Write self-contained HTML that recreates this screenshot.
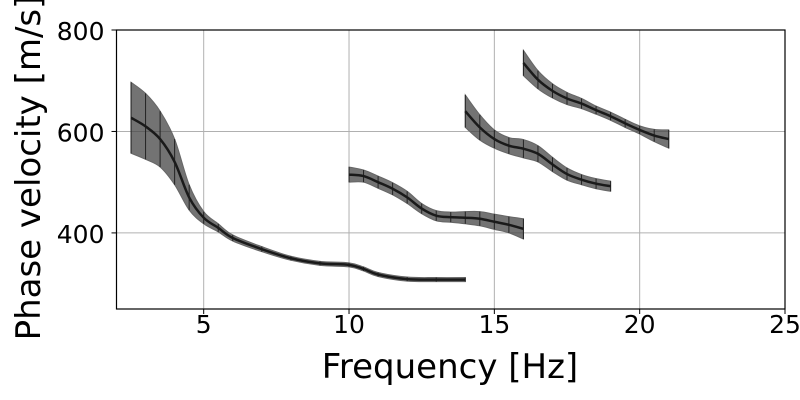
<!DOCTYPE html>
<html><head><meta charset="utf-8"><style>
body{margin:0;background:#fff;}
svg{display:block;font-family:"DejaVu Sans","Liberation Sans",sans-serif;}
</style></head><body>
<svg id="chart" width="800" height="400" viewBox="0 0 800 400"></svg>
<script>
const xTicks=[5,10,15,20,25];
const yTicks=[400,600,800];
const mode0X=[2.5,3,3.5,4,4.5,5,5.5,6,7,8,9,10,10.5,11,12,13,14];
const mode0Y=[627,610,585,540,470,430,410,390,368,350,340,337,329,318,309,308,308];
const mode0E=[70,65,55,45,25,12,8,6,5,4,4,4,4,4,4,4,4];
const mode1X=[10,10.5,11,11.5,12,12.5,13,13.5,14,14.5,15,15.5,16];
const mode1Y=[515,512,500,487,470,448,434,431,430,428,422,416,408];
const mode1E=[15,12,12,12,12,10,10,10,12,14,15,16,20];
const mode2X=[14,14.5,15,15.5,16,16.5,17,17.5,18,18.5,19];
const mode2Y=[640,608,585,572,566,556,535,516,505,497,492];
const mode2E=[32,25,18,16,18,16,14,12,10,10,10];
const mode3X=[16,16.5,17,17.5,18,18.5,19,19.5,20,20.5,21];
const mode3Y=[735,702,680,665,655,642,630,616,603,592,585];
const mode3E=[25,18,14,12,10,8,8,8,8,12,18];
const modes=[[mode0X,mode0Y,mode0E],[mode1X,mode1Y,mode1E],[mode2X,mode2Y,mode2E],[mode3X,mode3Y,mode3E]];

const L=116.5,R=785,T=30,B=309,x0=2,x1=25,y0=250,y1=800;
const sx=v=>L+(v-x0)/(x1-x0)*(R-L);
const sy=v=>B-(v-y0)/(y1-y0)*(B-T);
const NS='http://www.w3.org/2000/svg';
const svg=document.getElementById('chart');
function mk(tag,attrs,parent){const e=document.createElementNS(NS,tag);for(const k in attrs)e.setAttribute(k,attrs[k]);(parent||svg).appendChild(e);return e;}

const grid=mk('g',{});


xTicks.forEach(t=>{const l=mk('line',{x1:sx(t),x2:sx(t),y1:T,y2:B,stroke:'#b0b0b0','stroke-width':1},grid);

});
yTicks.forEach(t=>{const l=mk('line',{x1:L,x2:R,y1:sy(t),y2:sy(t),stroke:'#b0b0b0','stroke-width':1},grid);

});

function smoothPath(pts){let d='M'+pts[0][0]+','+pts[0][1];
for(let i=0;i<pts.length-1;i++){const p0=pts[Math.max(i-1,0)],p1=pts[i],p2=pts[i+1],p3=pts[Math.min(i+2,pts.length-1)];
d+=' C'+(p1[0]+(p2[0]-p0[0])/6)+','+(p1[1]+(p2[1]-p0[1])/6)+' '+(p2[0]-(p3[0]-p1[0])/6)+','+(p2[1]-(p3[1]-p1[1])/6)+' '+p2[0]+','+p2[1];}
return d;}

modes.forEach((m,mi)=>{const [X,Y,E]=m;
const g=mk('g',{});


const up=X.map((x,i)=>[sx(x),sy(Y[i]+E[i])]);
const lo=X.map((x,i)=>[sx(x),sy(Y[i]-E[i])]).reverse();
const band=mk('path',{d:smoothPath(up)+' L'+smoothPath(lo).slice(1)+' Z',fill:'#444','fill-opacity':0.75,stroke:'#666','stroke-width':1},g);


X.forEach((x,i)=>{const e=mk('line',{x1:sx(x),x2:sx(x),y1:sy(Y[i]+E[i]),y2:sy(Y[i]-E[i]),stroke:'#222','stroke-width':1},g);

});
const ln=mk('path',{d:smoothPath(X.map((x,i)=>[sx(x),sy(Y[i])])),fill:'none',stroke:'#1a1a1a','stroke-width':2.5},g);


});

const frame=mk('rect',{x:L,y:T,width:R-L,height:B-T,fill:'none',stroke:'#000','stroke-width':1.2});


xTicks.forEach(t=>{const k=mk('line',{x1:sx(t),x2:sx(t),y1:B,y2:B+5,stroke:'#000'});


const tx=mk('text',{x:sx(t),y:B+24,'font-size':25,'text-anchor':'middle',fill:'#000'});tx.textContent=t;

});
yTicks.forEach(t=>{const k=mk('line',{x1:L-5,x2:L,y1:sy(t),y2:sy(t),stroke:'#000'});


const tx=mk('text',{x:L-12,y:sy(t)+10,'font-size':25,'text-anchor':'end',fill:'#000'});tx.textContent=t;

});
const xl=mk('text',{x:450,y:378,'font-size':34,'text-anchor':'middle',fill:'#000'});xl.textContent='Frequency [Hz]';


const yl=mk('text',{x:0,y:0,'font-size':34,'text-anchor':'middle',fill:'#000',transform:'translate(40,168) rotate(-90)'});yl.textContent='Phase velocity [m/s]';


</script>
</body></html>
